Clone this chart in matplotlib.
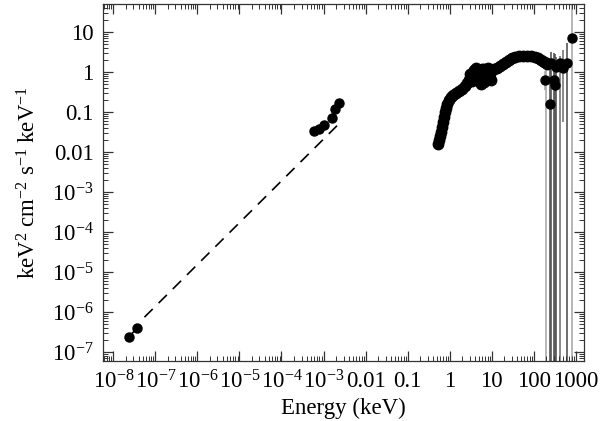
import numpy as np
import matplotlib
matplotlib.use("Agg")
import matplotlib.pyplot as plt
from matplotlib.ticker import FixedLocator, LogLocator, NullFormatter

plt.rcParams["font.family"] = ["Liberation Serif", "DejaVu Serif"]
plt.rcParams["mathtext.fontset"] = "custom"
plt.rcParams["mathtext.rm"] = "Liberation Serif"
plt.rcParams["mathtext.it"] = "Liberation Serif:italic"

# radio / optical points (joined)
radio_e = [2.3e-8, 3.7e-8]
radio_f = [2.4e-7, 4.0e-7]

# model extrapolation (dashed)
model_e = [5.5e-8, 2.4e-3]
model_f = [7.5e-7, 0.053]

# optical / UV points
uv_e = [5.8e-4, 7.6e-4, 1.0e-3, 1.55e-3, 1.9e-3, 2.3e-3]
uv_f = [0.0335, 0.0376, 0.047, 0.071, 0.119, 0.168]
uv_err = [0.003, 0.003, 0.004, 0.006, 0.015, 0.04]

# X-ray curve
xr_e = [0.52, 0.55, 0.58, 0.61, 0.65, 0.68, 0.72, 0.76, 0.80, 0.85, 0.95,
        1.06, 1.18, 1.39, 1.64, 1.93, 2.28, 2.54, 2.83, 3.16, 3.53, 4.16,
        4.90, 5.78, 6.81, 8.03, 9.47, 11.2, 13.2, 15.5, 18.3, 21.5, 25.4,
        29.9, 35.3, 44.0, 54.7, 68.1, 84.8, 106, 125, 147, 173, 204]
xr_f = [0.0158, 0.020, 0.025, 0.032, 0.042, 0.056, 0.075, 0.10, 0.126, 0.158,
        0.20, 0.237, 0.266, 0.30, 0.335, 0.376, 0.447, 0.53, 0.63, 0.75, 0.84,
        0.94, 1.0, 1.0, 1.0, 1.06, 1.12, 1.19, 1.26, 1.41, 1.58, 1.78, 2.0,
        2.24, 2.37, 2.51, 2.51, 2.51, 2.51, 2.37, 2.24, 2.0, 1.78, 1.58]

# overlapping instruments in the 3-10 keV range
blob_e = [3.73, 4.64, 5.78, 7.2, 8.96, 4.16, 6.43, 8.03, 5.18, 2.99, 3.4, 9.5,
          5.5, 6.5, 7.5, 4.5, 3.0]
blob_f = [1.12, 0.63, 1.22, 0.71, 0.89, 1.28, 0.56, 1.28, 0.79, 0.71, 0.62, 0.65,
          0.52, 1.2, 0.95, 0.95, 0.9]

# hard X-ray / gamma points with large error bars
hx_e = [183, 194, 240, 253, 300, 316, 335, 415, 490, 610, 800]
hx_f = [0.63, 1.78, 0.158, 1.68, 0.63, 0.47, 1.33, 1.68, 1.26, 1.68, 7.1]
hx_lo = [0.35, 1e-9, 1e-9, 1e-9, 1e-9, 1e-9, 1e-9, 1e-9, 0.056, 1e-9, 1e-9]
hx_hi = [1.1, 2.6, 2.2, 3.2, 3.0, 2.8, 2.4, 2.6, 3.5, 5.3, 60]
hx_col = ["#aaaaaa", "#aaaaaa", "#555555", "#555555", "#555555", "#555555",
          "#555555", "#777777", "#777777", "#555555", "#aaaaaa"]

xticks = [1e-8, 1e-7, 1e-6, 1e-5, 1e-4, 1e-3, 1e-2, 0.1, 1, 10, 100, 1000]
xlabels = [r"10$^{-8}$", r"10$^{-7}$", r"10$^{-6}$", r"10$^{-5}$", r"10$^{-4}$",
           r"10$^{-3}$", "0.01", "0.1", "1", "10", "100", "1000"]
yticks = [1e-7, 1e-6, 1e-5, 1e-4, 1e-3, 1e-2, 0.1, 1, 10]
ylabels = [r"10$^{-7}$", r"10$^{-6}$", r"10$^{-5}$", r"10$^{-4}$", r"10$^{-3}$",
           "0.01", "0.1", "1", "10"]

fig = plt.figure(figsize=(6.0, 4.21), dpi=100)
ax = fig.add_axes([0.172, 0.1425, 0.801, 0.8475])
ax.set_xscale("log")
ax.set_yscale("log")

ms = 6.5
ax.vlines(hx_e, hx_lo, hx_hi, colors=hx_col, lw=1.2, zorder=1)
ax.errorbar(uv_e, uv_f, yerr=uv_err, fmt="o", color="black", ecolor="#444444",
            elinewidth=0.8, ms=ms, zorder=3)
ax.plot(model_e, model_f, "--", color="black", lw=1.2, dashes=(7, 5), zorder=2)
ax.plot(radio_e, radio_f, "o-", color="black", ms=ms, lw=1.2, zorder=3)
ax.plot(xr_e, xr_f, "o", color="black", ms=ms + 1, zorder=3)
ax.plot(blob_e, blob_f, "o", color="black", ms=ms + 1, zorder=3)
ax.plot(hx_e, hx_f, "o", color="black", ms=ms, zorder=3)

ax.set_xlim(10 ** -8.24, 10 ** 3.19)
ax.set_ylim(10 ** -7.22, 10 ** 1.7)

ax.xaxis.set_major_locator(FixedLocator(xticks))
ax.set_xticklabels(xlabels)
ax.yaxis.set_major_locator(FixedLocator(yticks))
ax.set_yticklabels(ylabels)
ax.xaxis.set_minor_locator(LogLocator(base=10, subs=np.arange(2, 10), numticks=30))
ax.yaxis.set_minor_locator(LogLocator(base=10, subs=np.arange(2, 10), numticks=30))
ax.xaxis.set_minor_formatter(NullFormatter())
ax.yaxis.set_minor_formatter(NullFormatter())

ax.tick_params(which="both", direction="in", top=True, right=True,
               labelsize=16.5, color="#333333")
ax.tick_params(which="major", length=7, width=0.9, pad=7)
ax.tick_params(which="minor", length=3.5, width=0.7)
for s in ax.spines.values():
    s.set_linewidth(0.9)
    s.set_color("#333333")

ax.set_xlabel("Energy (keV)", fontsize=16.5, labelpad=3)
ax.set_ylabel(r"keV$^2$ cm$^{-2}$ s$^{-1}$ keV$^{-1}$", fontsize=16.5, labelpad=8)

fig.savefig("out.png", dpi=100)
